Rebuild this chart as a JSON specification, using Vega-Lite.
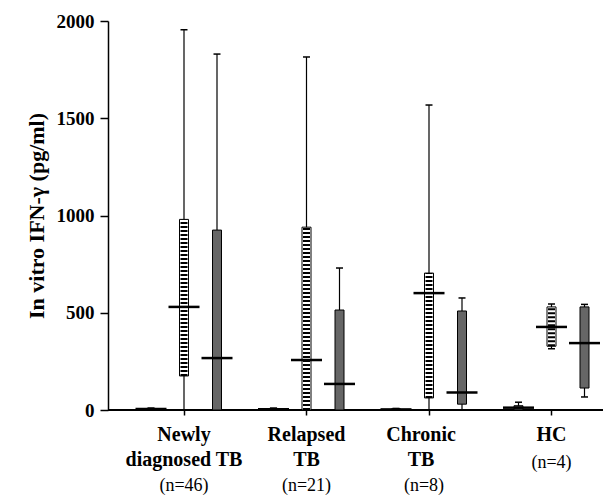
{
  "$schema": "https://vega.github.io/schema/vega-lite/v6.json",
  "autosize": "none",
  "width": 495,
  "height": 389,
  "padding": {"left": 108, "top": 21, "right": 0, "bottom": 85},
  "background": "white",
  "config": {
    "view": {"stroke": null},
    "font": "Liberation Serif",
    "axisY": {
      "grid": false,
      "domainColor": "black", "domainWidth": 1.5,
      "tickColor": "black", "tickWidth": 1.5, "tickSize": 8,
      "labelFont": "Liberation Serif", "labelFontSize": 19, "labelFontWeight": "bold", "labelColor": "black", "labelPadding": 6,
      "titleFont": "Liberation Serif", "titleFontSize": 22, "titleFontWeight": "bold", "titleColor": "black", "titlePadding": 8
    }
  },
  "data": {
    "values": [
      {"group": "Newly diagnosed TB", "stim": "Medium", "min": 0, "q1": 0, "median": 5, "q3": 8, "max": 10},
      {"group": "Newly diagnosed TB", "stim": "Antigen A", "min": 0, "q1": 175, "median": 530, "q3": 980, "max": 1955},
      {"group": "Newly diagnosed TB", "stim": "Antigen B", "min": 0, "q1": 0, "median": 267, "q3": 925, "max": 1830},
      {"group": "Relapsed TB", "stim": "Medium", "min": 0, "q1": 0, "median": 4, "q3": 8, "max": 10},
      {"group": "Relapsed TB", "stim": "Antigen A", "min": 0, "q1": 0, "median": 257, "q3": 940, "max": 1815},
      {"group": "Relapsed TB", "stim": "Antigen B", "min": 0, "q1": 0, "median": 134, "q3": 514, "max": 730},
      {"group": "Chronic TB", "stim": "Medium", "min": 0, "q1": 0, "median": 3, "q3": 6, "max": 8},
      {"group": "Chronic TB", "stim": "Antigen A", "min": 0, "q1": 62, "median": 601, "q3": 704, "max": 1568},
      {"group": "Chronic TB", "stim": "Antigen B", "min": 0, "q1": 30, "median": 90, "q3": 509, "max": 576},
      {"group": "HC", "stim": "Medium", "min": 0, "q1": 0, "median": 12, "q3": 22, "max": 40},
      {"group": "HC", "stim": "Antigen A", "min": 315, "q1": 328, "median": 427, "q3": 530, "max": 545},
      {"group": "HC", "stim": "Antigen B", "min": 67, "q1": 113, "median": 344, "q3": 530, "max": 543}
    ]
  },
  "layer": [
    {
      "mark": {"type": "rule", "color": "black", "strokeWidth": 1.5, "opacity": 1},
      "encoding": {
        "y": {"datum": 0, "type": "quantitative", "scale": {"domain": [0, 2000]}, "title": "In vitro IFN-γ (pg/ml)", "axis": {"values": [0, 500, 1000, 1500, 2000], "format": "d"}}
      }
    },
    {
      "mark": {"type": "rule", "color": "black", "strokeWidth": 1.2, "opacity": 1},
      "encoding": {
        "x": {"field": "group", "type": "nominal", "sort": ["Newly diagnosed TB", "Relapsed TB", "Chronic TB", "HC"], "scale": {"range": [14.75, 504.75], "paddingInner": 0, "paddingOuter": 0}, "axis": null},
        "xOffset": {"field": "stim", "type": "nominal", "sort": ["Medium", "Antigen A", "Antigen B"], "scale": {"paddingInner": 0, "paddingOuter": 0.356}},
        "y": {"field": "min", "type": "quantitative", "scale": {"domain": [0, 2000]}, "title": "In vitro IFN-γ (pg/ml)", "axis": {"values": [0, 500, 1000, 1500, 2000], "format": "d"}},
        "y2": {"field": "max"}
      }
    },
    {
      "mark": {"type": "tick", "color": "black", "size": 7, "thickness": 1.5, "opacity": 1},
      "encoding": {
        "x": {"field": "group", "type": "nominal", "sort": ["Newly diagnosed TB", "Relapsed TB", "Chronic TB", "HC"], "axis": null},
        "xOffset": {"field": "stim", "type": "nominal", "sort": ["Medium", "Antigen A", "Antigen B"]},
        "y": {"field": "max", "type": "quantitative", "title": "In vitro IFN-γ (pg/ml)", "axis": {"values": [0, 500, 1000, 1500, 2000], "format": "d"}}
      }
    },
    {
      "mark": {"type": "tick", "color": "black", "size": 7, "thickness": 1.5, "opacity": 1},
      "encoding": {
        "x": {"field": "group", "type": "nominal", "sort": ["Newly diagnosed TB", "Relapsed TB", "Chronic TB", "HC"], "axis": null},
        "xOffset": {"field": "stim", "type": "nominal", "sort": ["Medium", "Antigen A", "Antigen B"]},
        "y": {"field": "min", "type": "quantitative", "title": "In vitro IFN-γ (pg/ml)", "axis": {"values": [0, 500, 1000, 1500, 2000], "format": "d"}}
      }
    },
    {
      "mark": {"type": "bar", "width": 9, "stroke": "black", "strokeWidth": 1, "opacity": 1},
      "encoding": {
        "x": {
          "field": "group", "type": "nominal", "sort": ["Newly diagnosed TB", "Relapsed TB", "Chronic TB", "HC"],
          "axis": {
            "orient": "bottom", "title": null, "domain": false,
            "tickColor": "black", "tickWidth": 1.5, "tickSize": 5,
            "labelAngle": 0, "labelFont": "Liberation Serif", "labelFontSize": 20, "labelFontWeight": "bold", "labelColor": "black",
            "labelPadding": 9, "labelLineHeight": 25, "labelBaseline": "top",
            "labelOffset": {"condition": {"test": "datum.value == 'Chronic TB'", "value": -8}, "value": 0},
            "labelExpr": "datum.value == 'Newly diagnosed TB' ? ['Newly', 'diagnosed TB'] : datum.value == 'Relapsed TB' ? ['Relapsed', 'TB'] : datum.value == 'Chronic TB' ? ['Chronic', 'TB'] : 'HC'"
          }
        },
        "xOffset": {"field": "stim", "type": "nominal", "sort": ["Medium", "Antigen A", "Antigen B"]},
        "y": {"field": "q1", "type": "quantitative", "title": "In vitro IFN-γ (pg/ml)", "axis": {"values": [0, 500, 1000, 1500, 2000], "format": "d"}},
        "y2": {"field": "q3"},
        "fill": {"field": "stim", "type": "nominal", "scale": {"domain": ["Medium", "Antigen A", "Antigen B"], "range": ["#555555", "#ffffff", "#666666"]}, "legend": null}
      }
    },
    {
      "transform": [{"filter": "datum.stim == 'Antigen A'"}],
      "mark": {"type": "rule", "color": "black", "strokeWidth": 7, "strokeDash": [2, 2], "opacity": 1},
      "encoding": {
        "x": {"field": "group", "type": "nominal", "sort": ["Newly diagnosed TB", "Relapsed TB", "Chronic TB", "HC"], "axis": null},
        "xOffset": {"field": "stim", "type": "nominal", "sort": ["Medium", "Antigen A", "Antigen B"]},
        "y": {"field": "q1", "type": "quantitative", "title": "In vitro IFN-γ (pg/ml)", "axis": {"values": [0, 500, 1000, 1500, 2000], "format": "d"}},
        "y2": {"field": "q3"}
      }
    },
    {
      "mark": {"type": "tick", "color": "black", "size": 31, "thickness": 2.5, "opacity": 1},
      "encoding": {
        "x": {
          "field": "group", "type": "nominal", "sort": ["Newly diagnosed TB", "Relapsed TB", "Chronic TB", "HC"],
          "axis": {
            "orient": "bottom", "title": null, "domain": false, "ticks": false, "tickSize": 0,
            "labelAngle": 0, "labelFont": "Liberation Serif", "labelFontSize": 18, "labelFontWeight": "normal", "labelColor": "black",
            "labelBaseline": "top",
            "labelPadding": {"condition": {"test": "datum.value == 'HC'", "value": 43}, "value": 66},
            "labelOffset": {"condition": {"test": "datum.value == 'Chronic TB'", "value": -5}, "value": 0},
            "labelExpr": "datum.value == 'Newly diagnosed TB' ? '(n=46)' : datum.value == 'Relapsed TB' ? '(n=21)' : datum.value == 'Chronic TB' ? '(n=8)' : '(n=4)'"
          }
        },
        "xOffset": {"field": "stim", "type": "nominal", "sort": ["Medium", "Antigen A", "Antigen B"]},
        "y": {"field": "median", "type": "quantitative", "title": "In vitro IFN-γ (pg/ml)", "axis": {"values": [0, 500, 1000, 1500, 2000], "format": "d"}}
      }
    }
  ],
  "resolve": {"axis": {"x": "independent"}}
}
